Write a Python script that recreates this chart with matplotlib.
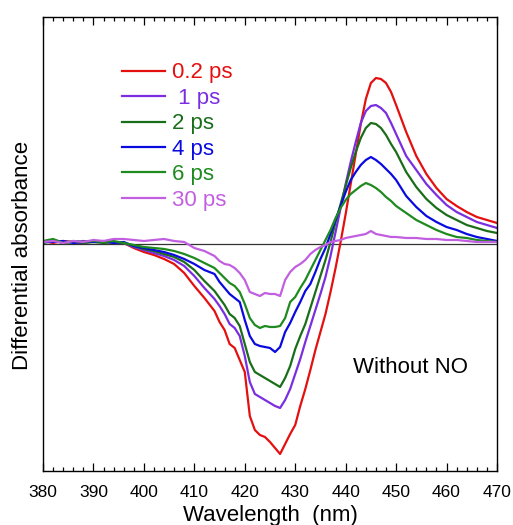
import matplotlib
matplotlib.use("Agg")
import matplotlib.pyplot as plt
from matplotlib.ticker import MultipleLocator

plt.rcParams['font.family'] = ['Liberation Sans', 'DejaVu Sans']

# wavelength grid (nm)
wl = [380, 382, 384, 386, 388, 390, 392, 394, 396, 398, 400, 402, 404, 406, 408,
      410, 412, 414, 415, 416, 417, 418, 419, 420, 421, 422, 423, 424, 425, 426,
      427, 428, 429, 430, 431, 432, 433, 434, 435, 436, 437, 438, 439, 440, 441,
      442, 443, 444, 445, 446, 447, 448, 449, 450, 452, 454, 456, 458, 460, 462,
      464, 466, 468, 470]

# differential absorbance (arb. units)
d_02ps = [3, 1, 3, 2, 1, 3, 2, 2, 1, -4, -8, -11, -15, -20, -29,
          -42, -54, -67, -78, -86, -100, -104, -116, -128, -172, -186, -191, -193, -198, -204,
          -210, -200, -190, -181, -162, -145, -126, -106, -88, -70, -48, -24, 2, 30, 60,
          90, 120, 145, 161, 166, 165, 161, 152, 139, 112, 88, 70, 56, 45, 38,
          32, 27, 24, 21]
d_1ps = [2, 4, 2, 2, 3, 2, 2, 1, 1, -3, -6, -9, -12, -16, -22,
         -32, -44, -55, -62, -70, -80, -84, -92, -112, -138, -150, -153, -156, -159, -162,
         -164, -156, -145, -130, -115, -98, -82, -66, -50, -33, -12, 12, 36, 60, 82,
         102, 121, 133, 138, 139, 136, 131, 121, 110, 88, 74, 60, 49, 39, 32,
         27, 22, 19, 16]
d_2ps = [1, 3, 1, 2, 1, 2, 1, 2, 1, -2, -5, -7, -10, -13, -18,
         -26, -37, -47, -54, -61, -70, -74, -82, -100, -118, -128, -131, -134, -137, -140,
         -143, -134, -122, -105, -92, -80, -64, -48, -32, -16, 2, 22, 40, 58, 76,
         92, 106, 116, 121, 120, 116, 109, 100, 92, 72, 57, 45, 36, 29, 24,
         19, 16, 13, 11]
d_4ps = [2, 2, 3, 1, 2, 2, 3, 1, 2, -2, -4, -6, -8, -11, -15,
         -20, -26, -30, -38, -44, -50, -54, -58, -76, -92, -100, -102, -103, -104, -108,
         -103, -88, -79, -68, -58, -47, -40, -28, -15, -4, 10, 24, 38, 52, 64,
         72, 79, 84, 87, 84, 80, 75, 70, 64, 48, 37, 28, 22, 17, 14,
         10, 7, 5, 3]
d_6ps = [3, 5, 1, 3, 2, 3, 2, 3, 1, -1, -3, -4, -5, -7, -10,
         -14, -19, -24, -29, -34, -39, -42, -48, -60, -74, -81, -84, -82, -83, -83,
         -82, -74, -58, -53, -44, -36, -26, -16, -6, 4, 14, 26, 36, 44, 50,
         54, 58, 61, 59, 56, 52, 47, 43, 38, 31, 24, 19, 14, 10, 7,
         6, 4, 3, 2]
d_30ps = [2, 3, 1, 3, 2, 4, 3, 5, 5, 4, 3, 4, 5, 3, 2,
          -4, -7, -12, -17, -20, -21, -24, -29, -36, -48, -50, -52, -49, -50, -50,
          -52, -36, -28, -23, -20, -16, -10, -6, -3, -1, 2, 3, 4, 6, 7,
          8, 9, 10, 13, 10, 9, 8, 7, 7, 6, 6, 5, 5, 4, 4,
          3, 2, 2, 2]

labels = ['0.2 ps', ' 1 ps', '2 ps', '4 ps', '6 ps', '30 ps']
colors = ['#e41010', '#7a2ee0', '#1a6e1a', '#0a0ae0', '#1f8a1f', '#c25fe0']
series = [d_02ps, d_1ps, d_2ps, d_4ps, d_6ps, d_30ps]

fig = plt.figure(figsize=(5.13, 5.25), dpi=100)
ax = fig.add_axes([0.0838, 0.1029, 0.8850, 0.8647])

ax.axhline(0, color='#333333', lw=0.9, zorder=1)
for y, lab, c in zip(series, labels, colors):
    ax.plot(wl, y, color=c, lw=1.6, label=lab, zorder=2)

ax.set_xlim(380, 470)
ax.set_ylim(-227, 227)
ax.xaxis.set_major_locator(MultipleLocator(10))
ax.xaxis.set_minor_locator(MultipleLocator(2))
ax.set_yticks([])
ax.tick_params(axis='x', which='both', direction='in', top=True, bottom=True,
               labelsize=12.5, pad=10)
ax.tick_params(axis='x', which='major', length=5.5, width=0.9)
ax.tick_params(axis='x', which='minor', length=3, width=0.9)
for s in ax.spines.values():
    s.set_linewidth(1.0)

ax.set_xlabel('Wavelength  (nm)', fontsize=16, labelpad=4)
ax.set_ylabel('Differential absorbance', fontsize=16)
ax.yaxis.set_label_coords(-0.022, 0.474)

ax.text(441.5, -124, 'Without NO', fontsize=16, va='center', ha='left')

leg = ax.legend(loc='upper left', bbox_to_anchor=(0.174, 0.90), frameon=False,
                fontsize=16, handlelength=1.95, handletextpad=0.3,
                labelspacing=0.2, borderpad=0, borderaxespad=0,
                labelcolor='linecolor')

fig.savefig('out.png', dpi=100)
